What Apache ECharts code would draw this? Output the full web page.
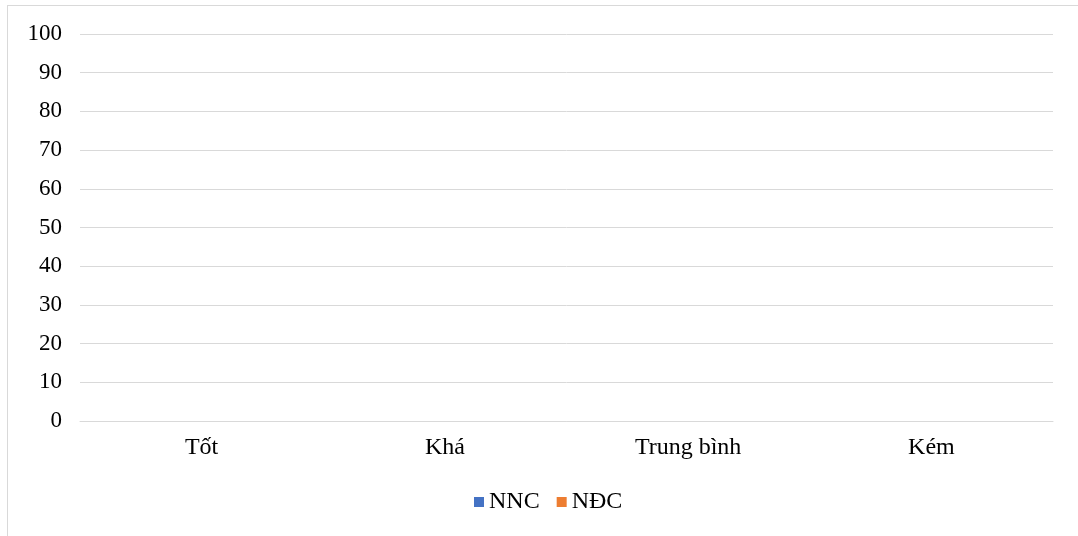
<!DOCTYPE html>
<html><head><meta charset="utf-8">
<script src="https://cdn.jsdelivr.net/npm/echarts@6/dist/echarts.min.js"></script>
<style>
html,body{margin:0;padding:0;background:#fff;}
#frame{position:absolute;left:7px;top:5px;width:1071px;height:531px;border-left:1px solid #d9d9d9;border-top:1px solid #d9d9d9;box-sizing:border-box;}
#c{position:absolute;left:0;top:0;width:1078px;height:536px;}
</style></head>
<body>
<div id="frame"></div>
<div id="c"></div>
<script>
const categories = ['Tốt', 'Khá', 'Trung bình', 'Kém'];
const nncValues = [0, 0, 0, 0];
const ndcValues = [0, 0, 0, 0];
const seriesNames = ['NNC', 'NĐC'];

const chart = echarts.init(document.getElementById('c'));
const font = 'Liberation Serif, Times New Roman, serif';
chart.setOption({
  animation: false,
  backgroundColor: 'transparent',
  grid: { left: 80, right: 25, top: 34, bottom: 115, containLabel: false },
  legend: {
    data: seriesNames, bottom: 17, left: 469,
    icon: 'rect', itemWidth: 10, itemHeight: 10, itemGap: 17, padding: 5,
    textStyle: { fontFamily: font, fontSize: 24, color: '#000' }
  },
  xAxis: {
    type: 'category', data: categories,
    axisLine: { show: true, lineStyle: { color: '#d9d9d9', width: 1 } },
    axisTick: { show: false },
    axisLabel: { fontFamily: font, fontSize: 24, color: '#000', margin: 15 }
  },
  yAxis: {
    type: 'value', min: 0, max: 100, interval: 10,
    axisLine: { show: false }, axisTick: { show: false },
    splitLine: { lineStyle: { color: '#d9d9d9', width: 1 } },
    axisLabel: { fontFamily: font, fontSize: 23, color: '#000', margin: 18 }
  },
  series: [
    { name: seriesNames[0], type: 'bar', data: nncValues, itemStyle: { color: '#4472c4' } },
    { name: seriesNames[1], type: 'bar', data: ndcValues, itemStyle: { color: '#ed7d31' } }
  ]
});
</script>
</body></html>
